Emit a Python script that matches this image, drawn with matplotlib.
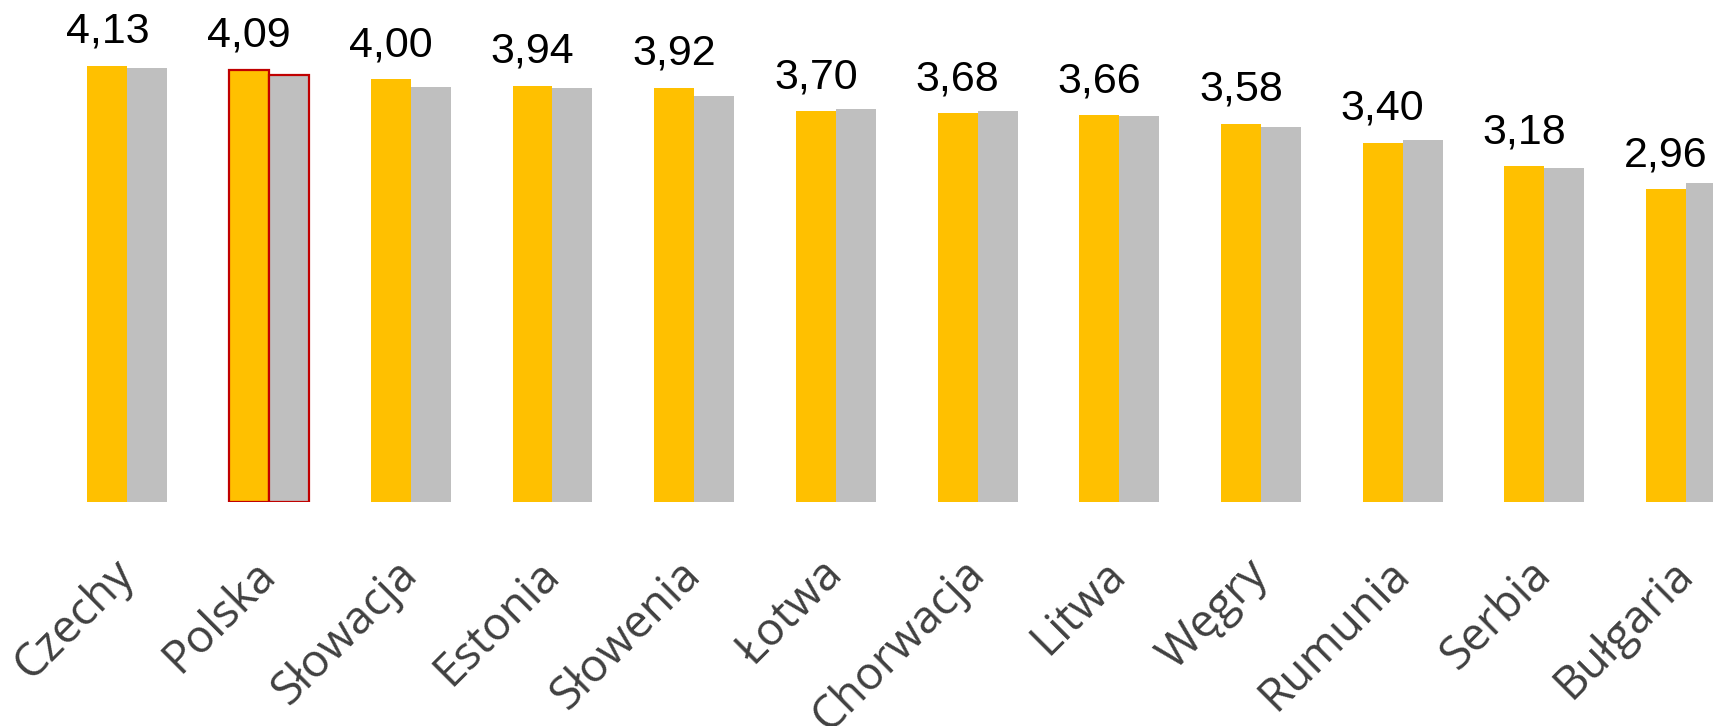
import matplotlib
matplotlib.use("Agg")
import matplotlib.pyplot as plt
import numpy as np

countries = ["Czechy", "Polska", "Słowacja", "Estonia", "Słowenia", "Łotwa",
             "Chorwacja", "Litwa", "Węgry", "Rumunia", "Serbia", "Bułgaria"]
series_a = [4.13, 4.09, 4.00, 3.94, 3.92, 3.70, 3.68, 3.66, 3.58, 3.40, 3.18, 2.96]
series_b = [4.11, 4.04, 3.93, 3.92, 3.84, 3.72, 3.70, 3.65, 3.55, 3.43, 3.16, 3.02]
highlight = "Polska"

fig = plt.figure(figsize=(17.13, 7.26), dpi=100)
ax = fig.add_axes([0, 1 - 502/726, 1, 502/726])

x = np.arange(len(countries))
w = 0.282
bars_a = ax.bar(x - w/2, series_a, width=w, color="#FFC000", edgecolor="none")
bars_b = ax.bar(x + w/2, series_b, width=w, color="#BFBFBF", edgecolor="none")

hi = countries.index(highlight)
for b in (bars_a[hi], bars_b[hi]):
    b.set_edgecolor("#C00000")
    b.set_linewidth(1.6)

for xi, v in zip(x, series_a):
    ax.annotate(f"{v:.2f}".replace(".", ","), (xi - w/2, v),
                xytext=(0, 10), textcoords="offset points",
                ha="center", va="bottom", fontsize=31,
                family="Liberation Sans", color="black")

ax.set_xlim(-0.899, 11.19)
ax.set_ylim(0, 4.75)
ax.set_xticks(x)
ax.set_xticklabels(countries, rotation=45, ha="right", va="center",
                   rotation_mode="anchor", fontsize=33, family="Open Sans",
                   color="#404040")
ax.tick_params(axis="x", length=0, pad=47)
ax.set_yticks([])
for s in ax.spines.values():
    s.set_visible(False)

fig.savefig("out.png", dpi=100)
